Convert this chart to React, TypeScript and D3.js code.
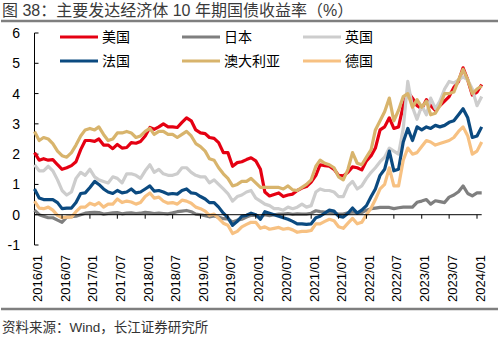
import React from "react";
import * as d3 from "d3";

const START_YEAR = 2016;
const seriesNames = ["美国", "日本", "英国", "法国", "澳大利亚", "德国"];
const seriesColors = ["#E50012", "#7F7F7F", "#CDCDCD", "#0B4A80", "#D8B46C", "#F7C182"];

const usValues = [
  2.05, 1.80, 1.85, 1.80, 1.82, 1.65, 1.50, 1.55, 1.62, 1.75, 2.15, 2.45,
  2.45, 2.42, 2.50, 2.30, 2.30, 2.18, 2.32, 2.20, 2.22, 2.38, 2.36, 2.42,
  2.60, 2.88, 2.82, 2.90, 3.00, 2.90, 2.90, 2.88, 3.05, 3.20, 3.10, 2.80,
  2.70, 2.68, 2.55, 2.52, 2.38, 2.05, 2.05, 1.60, 1.72, 1.75, 1.82, 1.88,
  1.78, 1.50, 0.75, 0.62, 0.67, 0.72, 0.60, 0.65, 0.68, 0.80, 0.88, 0.93,
  1.08, 1.30, 1.65, 1.62, 1.60, 1.50, 1.30, 1.28, 1.40, 1.58, 1.55, 1.48,
  1.78, 1.95, 2.20, 2.80, 2.90, 3.20, 2.85, 2.90, 3.60, 4.05, 3.85, 3.60,
  3.50, 3.80, 3.60, 3.45, 3.60, 3.75, 3.90, 4.20, 4.40, 4.85, 4.45, 3.95,
  4.05, 4.30,
];
const jpValues = [
  0.15, 0.00, -0.05, -0.10, -0.10, -0.18, -0.25, -0.08, -0.06, -0.05, 0.00, 0.05,
  0.07, 0.08, 0.07, 0.02, 0.04, 0.06, 0.07, 0.03, 0.05, 0.06, 0.04, 0.05,
  0.08, 0.06, 0.04, 0.05, 0.04, 0.03, 0.06, 0.10, 0.12, 0.14, 0.10, 0.02,
  0.00, -0.03, -0.07, -0.04, -0.08, -0.13, -0.14, -0.24, -0.18, -0.15, -0.08, -0.02,
  -0.02, -0.08, 0.00, -0.03, 0.00, 0.02, 0.02, 0.04, 0.01, 0.03, 0.02, 0.02,
  0.05, 0.13, 0.10, 0.09, 0.08, 0.05, 0.02, 0.02, 0.06, 0.09, 0.07, 0.07,
  0.15, 0.20, 0.22, 0.24, 0.24, 0.24, 0.20, 0.23, 0.25, 0.25, 0.25, 0.41,
  0.45, 0.50, 0.35, 0.46, 0.43, 0.40, 0.58, 0.65, 0.76, 0.95, 0.70, 0.62,
  0.72, 0.72,
];
const ukValues = [
  1.65, 1.45, 1.45, 1.60, 1.45, 1.15, 0.80, 0.65, 0.75, 1.20, 1.40, 1.30,
  1.50, 1.25, 1.15, 1.10, 1.05, 1.25, 1.20, 1.05, 1.35, 1.35, 1.30, 1.20,
  1.45, 1.65, 1.40, 1.50, 1.35, 1.30, 1.30, 1.35, 1.55, 1.55, 1.40, 1.30,
  1.25, 1.25, 1.05, 1.15, 1.00, 0.85, 0.70, 0.45, 0.60, 0.65, 0.75, 0.80,
  0.55, 0.45, 0.35, 0.30, 0.20, 0.20, 0.15, 0.25, 0.20, 0.25, 0.35, 0.25,
  0.30, 0.75, 0.85, 0.80, 0.80, 0.75, 0.60, 0.60, 0.95, 1.10, 0.85, 0.95,
  1.20, 1.40, 1.55, 1.75, 1.90, 2.20, 2.10, 2.00, 2.85, 4.40, 3.55, 3.15,
  3.60, 3.30, 3.85, 3.50, 3.75, 4.15, 4.40, 4.35, 4.45, 4.55, 4.45, 4.15,
  3.60, 3.90,
];
const frValues = [
  0.85, 0.55, 0.50, 0.50, 0.50, 0.40, 0.20, 0.22, 0.22, 0.40, 0.70, 0.72,
  0.90, 1.10, 1.00, 0.85, 0.75, 0.70, 0.80, 0.72, 0.75, 0.85, 0.72, 0.75,
  0.85, 0.95, 0.78, 0.80, 0.75, 0.68, 0.70, 0.68, 0.80, 0.85, 0.72, 0.70,
  0.60, 0.52, 0.40, 0.40, 0.25, 0.05, -0.10, -0.35, -0.22, -0.05, -0.02, 0.05,
  0.00, -0.15, 0.10, 0.05, 0.00, -0.05, -0.10, -0.15, -0.22, -0.30, -0.30, -0.32,
  -0.30, -0.10, -0.05, 0.05, 0.15, 0.12, -0.05, -0.08, 0.05, 0.22, 0.05, 0.15,
  0.30, 0.60, 0.85, 1.30, 1.50, 2.10, 1.45, 1.50, 2.40, 2.85, 2.45, 2.90,
  2.80, 2.90, 2.85, 2.95, 2.90, 2.95, 3.05, 3.10, 3.30, 3.50, 3.20, 2.55,
  2.60, 2.90,
];
const auValues = [
  2.75, 2.45, 2.55, 2.50, 2.35, 2.10, 1.95, 1.90, 2.05, 2.30, 2.60, 2.80,
  2.85, 2.80, 2.90, 2.65, 2.45, 2.50, 2.70, 2.70, 2.75, 2.70, 2.55, 2.60,
  2.75, 2.85, 2.65, 2.75, 2.75, 2.65, 2.65, 2.55, 2.65, 2.75, 2.60, 2.35,
  2.25, 2.10, 1.85, 1.80, 1.55, 1.35, 1.20, 0.95, 1.00, 1.10, 1.10, 1.20,
  1.05, 0.90, 0.90, 0.90, 0.90, 0.90, 0.85, 0.95, 0.82, 0.80, 0.90, 1.00,
  1.15, 1.60, 1.80, 1.70, 1.65, 1.55, 1.25, 1.15, 1.50, 2.05, 1.70, 1.65,
  1.90, 2.15, 2.80, 3.10, 3.40, 3.85, 3.10, 3.45, 3.90, 4.00, 3.55, 3.80,
  3.55, 3.75, 3.30, 3.35, 3.60, 4.00, 4.00, 4.05, 4.45, 4.80, 4.45, 4.00,
  4.15, 4.25,
];
const deValues = [
  0.45, 0.22, 0.20, 0.25, 0.15, -0.02, -0.10, -0.08, -0.08, 0.10, 0.25, 0.25,
  0.38, 0.32, 0.40, 0.25, 0.35, 0.35, 0.52, 0.40, 0.45, 0.42, 0.35, 0.40,
  0.60, 0.72, 0.55, 0.58, 0.45, 0.38, 0.40, 0.35, 0.48, 0.45, 0.38, 0.25,
  0.20, 0.12, -0.02, 0.02, -0.12, -0.28, -0.35, -0.62, -0.55, -0.40, -0.32, -0.25,
  -0.25, -0.45, -0.40, -0.48, -0.45, -0.42, -0.48, -0.45, -0.50, -0.58, -0.55, -0.55,
  -0.52, -0.30, -0.30, -0.22, -0.15, -0.20, -0.40, -0.45, -0.28, -0.12, -0.30, -0.25,
  0.00, 0.22, 0.50, 0.85, 1.00, 1.55, 0.95, 0.95, 1.80, 2.20, 2.00, 2.05,
  2.25, 2.45, 2.40, 2.30, 2.35, 2.40, 2.45, 2.55, 2.75, 2.90, 2.60, 2.00,
  2.10, 2.40,
];
const allSeries = [usValues, jpValues, ukValues, frValues, auValues, deValues];

const yTicks = [-1, 0, 1, 2, 3, 4, 5, 6];
const xTickLabels = [
  "2016/01", "2016/07", "2017/01", "2017/07", "2018/01", "2018/07", "2019/01", "2019/07",
  "2020/01", "2020/07", "2021/01", "2021/07", "2022/01", "2022/07", "2023/01", "2023/07", "2024/01",
];

const titleText = "图 38：主要发达经济体 10 年期国债收益率（%）";
const sourceText = "资料来源：Wind，长江证券研究所";

const FONT = '"Liberation Sans", Arial, "Noto Sans CJK SC", sans-serif';

const labelToDate = (s: string) => {
  const [y, m] = s.split("/").map(Number);
  return new Date(y, m - 1, 1);
};

export default function App() {
  const W = 500;
  const H = 342;
  const x = d3
    .scaleTime()
    .domain([new Date(2016, 0, 1), new Date(2024, 0, 1)])
    .range([34.5, 477]);
  const y = d3.scaleLinear().domain([-1, 6]).range([245, 33]);

  const line = d3
    .line<number>()
    .x((_, i) => x(new Date(START_YEAR, i, 1)))
    .y((v) => y(v));

  const xEnd = x(new Date(START_YEAR, usValues.length - 1, 1));

  const legendCols = [60, 182, 303];
  const legendRows = [37, 61];

  return (
    <svg
      width={W}
      height={H}
      style={{ position: "absolute", left: 0, top: 0, background: "#fff" }}
      fontFamily={FONT}
    >
      <rect width={W} height={H} fill="#fff" />
      <text x={2} y={16} fontSize={16} fill="#3a3a3a" fontFamily={FONT}>
        {titleText}
      </text>
      <line x1={1} x2={498} y1={21} y2={21} stroke="#7F7F7F" strokeWidth={2.5} />

      {/* y axis */}
      <line x1={x.range()[0]} x2={x.range()[0]} y1={y(6)} y2={y(-1)} stroke="#000" strokeWidth={1} />
      {yTicks.map((t) => (
        <g key={t}>
          <line x1={x.range()[0]} x2={x.range()[0] + 4} y1={y(t)} y2={y(t)} stroke="#000" />
          <text x={20} y={y(t)} dy="0.36em" textAnchor="end" fontSize={14} fill="#000">
            {t}
          </text>
        </g>
      ))}

      {/* series */}
      {allSeries.map((vals, k) => (
        <path
          key={k}
          d={line(vals) || ""}
          fill="none"
          stroke={seriesColors[k]}
          strokeWidth={3.2}
          strokeLinejoin="round"
        />
      ))}

      {/* x axis at zero */}
      <line x1={x.range()[0]} x2={xEnd} y1={y(0)} y2={y(0)} stroke="#000" strokeWidth={1} />
      {xTickLabels.map((lab) => {
        const px = x(labelToDate(lab));
        return (
          <g key={lab}>
            <line x1={px} x2={px} y1={y(0)} y2={y(0) + 4} stroke="#000" />
            <text
              transform={`translate(${px + 3},255) rotate(-90)`}
              dy="0.35em"
              textAnchor="end"
              fontSize={13}
              fill="#000"
            >
              {lab}
            </text>
          </g>
        );
      })}

      {/* legend */}
      {seriesNames.map((name, k) => {
        const cx = legendCols[k % 3];
        const cy = legendRows[Math.floor(k / 3)];
        return (
          <g key={name}>
            <line x1={cx} x2={cx + 38} y1={cy} y2={cy} stroke={seriesColors[k]} strokeWidth={3} />
            <text x={cx + 42} y={cy} dy="0.36em" fontSize={14} fill="#000">
              {name}
            </text>
          </g>
        );
      })}

      <line x1={1} x2={498} y1={309} y2={309} stroke="#7F7F7F" strokeWidth={2.5} />
      <text x={2} y={332} fontSize={13.5} fill="#333">
        {sourceText}
      </text>
    </svg>
  );
}
